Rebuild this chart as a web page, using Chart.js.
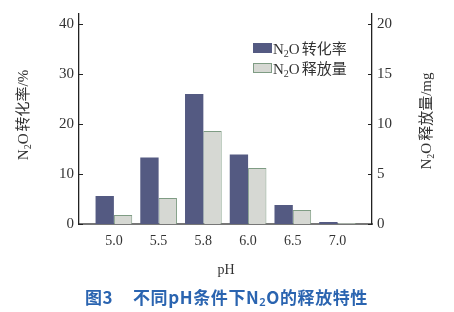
<!DOCTYPE html>
<html>
<head>
<meta charset="utf-8">
<script src="https://cdn.jsdelivr.net/npm/chart.js@4"></script>
<style>
  html, body { margin: 0; padding: 0; background: #ffffff; }
  #wrap { width: 454px; height: 312px; position: relative; }
</style>
</head>
<body>
<div id="wrap"><canvas id="phChart" width="454" height="312"></canvas></div>
<script>
// ---- data ----
const phLabels   = ['5.0', '5.5', '5.8', '6.0', '6.5', '7.0'];
const convRate   = [5.6, 13.3, 26.0, 13.9, 3.8, 0.4];   // N2O 转化率 / %
const releaseAmt = [0.9, 2.6, 9.3, 5.6, 1.4, 0.1];      // N2O 释放量 / mg
const leftTicks  = [0, 10, 20, 30, 40];
const rightTicks = [0, 5, 10, 15, 20];

const serif = '"Liberation Serif", "Noto Sans CJK SC", serif';
const darkFill  = '#545a82';
const lightFill = '#d6d8d3';
const lightEdge = '#7f9c84';

// draw "N2O..." with a subscript 2
function drawN2O(ctx, x, y, rest, size) {
    ctx.font = size + 'px ' + serif;
    ctx.textBaseline = 'alphabetic';
    ctx.textAlign = 'left';
    ctx.fillText('N', x, y);
    x += ctx.measureText('N').width;
    ctx.font = Math.round(size * 0.65) + 'px ' + serif;
    ctx.fillText('2', x, y + size * 0.22);
    x += ctx.measureText('2').width;
    ctx.font = size + 'px ' + serif;
    ctx.fillText('O', x, y);
    x += ctx.measureText('O').width + 2;
    ctx.fillText(rest, x, y);
    return x + ctx.measureText(rest).width;
}
function widthN2O(ctx, rest, size) {
    ctx.font = size + 'px ' + serif;
    let w = ctx.measureText('N').width + ctx.measureText('O').width + 2 + ctx.measureText(rest).width;
    ctx.font = Math.round(size * 0.65) + 'px ' + serif;
    return w + ctx.measureText('2').width;
}

// ---- extras: inward ticks, axis titles, legend, caption ----
const extrasPlugin = {
    id: 'extras',
    afterDraw(chart) {
        const ctx = chart.ctx;
        const yL = chart.scales.y, yR = chart.scales.y1, area = chart.chartArea;
        ctx.save();
        ctx.strokeStyle = '#222';
        ctx.lineWidth = 1;
        leftTicks.forEach(v => {
            const p = Math.round(yL.getPixelForValue(v)) + 0.5;
            ctx.beginPath(); ctx.moveTo(area.left, p); ctx.lineTo(area.left + 4, p); ctx.stroke();
        });
        rightTicks.forEach(v => {
            const p = Math.round(yR.getPixelForValue(v)) + 0.5;
            ctx.beginPath(); ctx.moveTo(area.right - 4, p); ctx.lineTo(area.right, p); ctx.stroke();
        });

        ctx.fillStyle = '#333';
        // left axis title
        ctx.save();
        ctx.translate(28, 115);
        ctx.rotate(-Math.PI / 2);
        let w = widthN2O(ctx, '转化率/%', 15);
        drawN2O(ctx, -w / 2, 0, '转化率/%', 15);
        ctx.restore();
        // right axis title
        ctx.save();
        ctx.translate(431, 121);
        ctx.rotate(-Math.PI / 2);
        w = widthN2O(ctx, '释放量/mg', 15);
        drawN2O(ctx, -w / 2, 0, '释放量/mg', 15);
        ctx.restore();

        // x axis title
        ctx.font = '14px ' + serif;
        ctx.textAlign = 'center';
        ctx.textBaseline = 'middle';
        ctx.fillText('pH', 226, 270);

        // legend
        const items = [
            { text: '转化率', fill: darkFill, edge: darkFill, y: 43 },
            { text: '释放量', fill: lightFill, edge: lightEdge, y: 63 }
        ];
        items.forEach(it => {
            ctx.fillStyle = it.fill;
            ctx.fillRect(253, it.y, 19, 10);
            ctx.strokeStyle = it.edge;
            ctx.strokeRect(253.5, it.y + 0.5, 18, 9);
            ctx.fillStyle = '#333';
            drawN2O(ctx, 273, it.y + 11, it.text, 15);
        });

        // caption
        ctx.fillStyle = '#2a64b0';
        ctx.letterSpacing = '0.6px';
        ctx.font = '600 17px "Noto Sans CJK SC", "Noto Sans", sans-serif';
        ctx.textAlign = 'left';
        ctx.textBaseline = 'middle';
        let x = 85;
        ctx.fillText('图3', x, 298);
        x = 133;
        ctx.fillText('不同pH条件下N', x, 298);
        x += ctx.measureText('不同pH条件下N').width;
        ctx.font = '600 11px "Noto Sans", sans-serif';
        ctx.fillText('2', x, 303);
        x += ctx.measureText('2').width;
        ctx.font = '600 17px "Noto Sans CJK SC", "Noto Sans", sans-serif';
        ctx.fillText('O的释放特性', x, 298);
        ctx.restore();
    }
};

new Chart(document.getElementById('phChart').getContext('2d'), {
    type: 'bar',
    data: {
        datasets: [{
            label: 'N2O转化率',
            data: convRate.map((v, i) => ({ x: i, y: v })),
            backgroundColor: darkFill,
            borderWidth: 0,
            yAxisID: 'y',
        }, {
            label: 'N2O释放量',
            data: releaseAmt.map((v, i) => ({ x: i, y: v })),
            backgroundColor: lightFill,
            borderColor: lightEdge,
            borderWidth: 1,
            yAxisID: 'y1',
        }]
    },
    options: {
        responsive: false,
        animation: false,
        barPercentage: 1,
        categoryPercentage: 0.82,
        layout: { padding: { top: 6, left: 0, right: 0, bottom: 28 } },
        plugins: {
            legend: { display: false },
            tooltip: { enabled: false }
        },
        scales: {
            x: {
                type: 'linear',
                offset: false,
                min: -0.78,
                max: 5.77,
                afterBuildTicks: s => { s.ticks = phLabels.map((_, i) => ({ value: i })); },
                afterFit: s => { s.height = 60; },
                grid: { display: false, drawTicks: false, offset: false },
                border: { color: '#777', width: 2 },
                ticks: {
                    padding: 9,
                    color: '#333',
                    font: { family: serif, size: 14 },
                    callback: v => phLabels[v] ?? ''
                }
            },
            y: {
                position: 'left',
                min: 0,
                max: 42,
                afterBuildTicks: s => { s.ticks = leftTicks.map(v => ({ value: v })); },
                afterFit: s => { s.width = 79; },
                grid: { display: false, drawTicks: false },
                border: { color: '#222', width: 1.3 },
                ticks: {
                    padding: 5,
                    color: '#333',
                    font: { family: serif, size: 15 }
                }
            },
            y1: {
                position: 'right',
                min: 0,
                max: 21,
                afterBuildTicks: s => { s.ticks = rightTicks.map(v => ({ value: v })); },
                afterFit: s => { s.width = 82; },
                grid: { display: false, drawTicks: false },
                border: { color: '#222', width: 1.3 },
                ticks: {
                    padding: 5,
                    color: '#333',
                    font: { family: serif, size: 15 }
                }
            }
        }
    },
    plugins: [extrasPlugin]
});
</script>
</body>
</html>
